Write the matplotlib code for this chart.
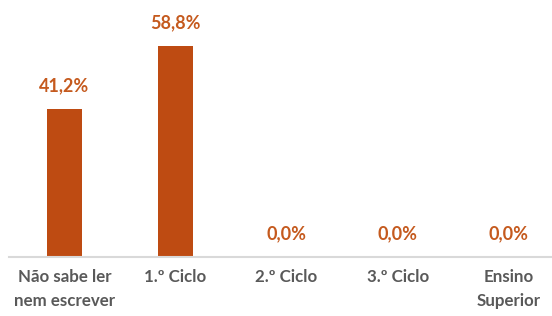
import matplotlib
matplotlib.use('Agg')
import matplotlib.pyplot as plt

# Data
categories = ['Não sabe ler\nnem escrever', '1.º Ciclo', '2.º Ciclo', '3.º Ciclo', 'Ensino\nSuperior']
values = [41.2, 58.8, 0.0, 0.0, 0.0]
value_labels = ['41,2%', '58,8%', '0,0%', '0,0%', '0,0%']

BAR_COLOR = '#BE4B12'
LABEL_COLOR = '#C55A1E'
TICK_COLOR = '#595959'

plt.rcParams['font.family'] = ['Lato', 'DejaVu Sans']

W, H = 552, 316
fig = plt.figure(figsize=(W / 100, H / 100), dpi=100)

# axes placed in pixel terms: axis line at y=257, left edge at x=9
px_per_unit = 3.59
ymax = 70
ax_h = ymax * px_per_unit
ax = fig.add_axes([9 / W, (H - 257) / H, 543 / W, ax_h / H])

x = range(len(categories))
ax.bar(x, values, width=0.315, color=BAR_COLOR, zorder=2)

for xi, v, lab in zip(x, values, value_labels):
    ax.annotate(lab, (xi, v), xytext=(0, 16.5), textcoords='offset points',
                ha='center', va='center', color=LABEL_COLOR,
                fontsize=13, fontweight='bold')

ax.set_xlim(-0.5, 4.39)
ax.set_ylim(0, ymax)
ax.set_xticks(list(x))
ax.set_xticklabels(categories, fontsize=12.2, fontweight='bold', color=TICK_COLOR,
                   linespacing=1.6)
ax.tick_params(axis='x', length=0, pad=8.5)
ax.set_yticks([])

for side in ['top', 'right', 'left']:
    ax.spines[side].set_visible(False)
ax.spines['bottom'].set_color('#D9D9D9')
ax.spines['bottom'].set_linewidth(1.5)

fig.savefig('out.png', dpi=100)
